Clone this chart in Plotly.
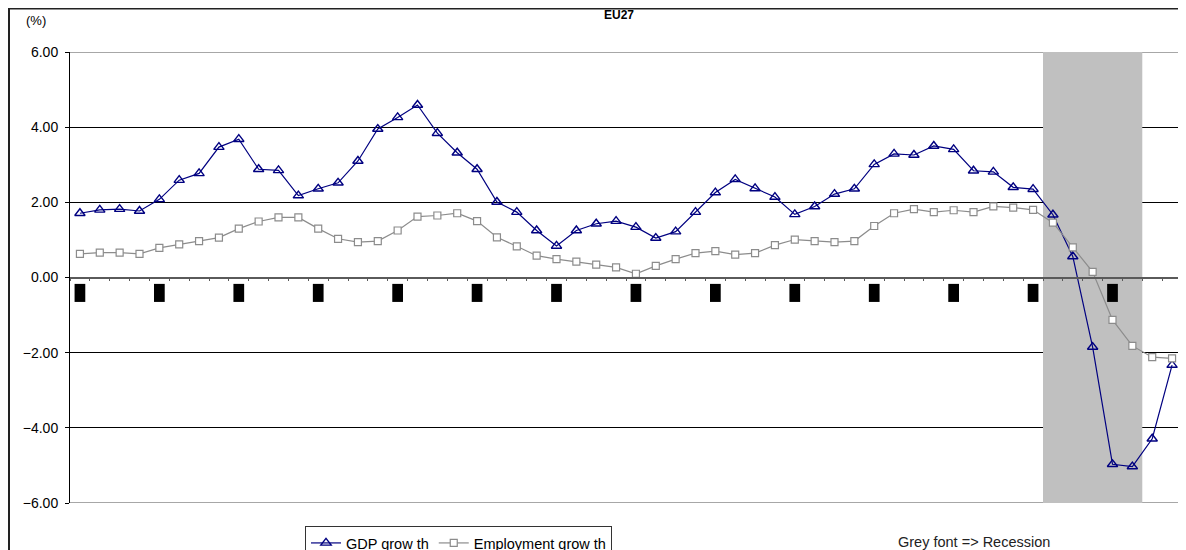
import plotly.graph_objects as go

# ---- data (quarterly, 56 quarters) ----
gdp_growth = [1.71, 1.80, 1.82, 1.77, 2.08, 2.59, 2.77, 3.47, 3.68, 2.88,
              2.85, 2.18, 2.36, 2.52, 3.10, 3.95, 4.26, 4.59, 3.84, 3.32,
              2.88, 2.01, 1.74, 1.25, 0.84, 1.25, 1.43, 1.50, 1.34, 1.05,
              1.22, 1.74, 2.26, 2.61, 2.37, 2.14, 1.68, 1.89, 2.22, 2.36,
              3.01, 3.29, 3.26, 3.50, 3.41, 2.84, 2.81, 2.40, 2.35, 1.67,
              0.56, -1.85, -4.97, -5.03, -4.29, -2.33]
employment_growth = [0.63, 0.66, 0.66, 0.63, 0.79, 0.88, 0.97, 1.06, 1.30, 1.49,
                     1.60, 1.60, 1.30, 1.03, 0.94, 0.97, 1.25, 1.62, 1.65, 1.71,
                     1.50, 1.07, 0.83, 0.58, 0.49, 0.42, 0.34, 0.27, 0.10, 0.31,
                     0.49, 0.65, 0.70, 0.61, 0.65, 0.86, 1.01, 0.97, 0.94, 0.97,
                     1.37, 1.71, 1.82, 1.74, 1.79, 1.74, 1.89, 1.86, 1.80, 1.46,
                     0.80, 0.15, -1.13, -1.82, -2.12, -2.15]
quarters = list(range(len(gdp_growth)))
year_label_quarters = [0, 4, 8, 12, 16, 20, 24, 28, 32, 36, 40, 44, 48, 52]
recession_quarters = [49, 50, 51, 52, 53]
y_ticks = [-6, -4, -2, 0, 2, 4, 6]

FONT = "Liberation Sans, Arial, sans-serif"

# page is offset by the default 8px body margin; layout values below are in figure px
W, H = 1186, 550
L, R, T, B = 62, 12, 44, 55
PW, PH = W - L - R, H - T - B  # plot area size


def px_x(fx):
    return (fx - L) / PW


def px_y(fy):
    return (H - B - fy) / PH


fig = go.Figure()

fig.add_trace(go.Scatter(
    x=quarters, y=gdp_growth, name="GDP grow th", mode="lines+markers",
    line=dict(color="#000080", width=1.2),
    marker=dict(symbol="triangle-up-open", size=9, color="#000080",
                line=dict(width=1.4, color="#000080")),
))
fig.add_trace(go.Scatter(
    x=quarters, y=employment_growth, name="Employment grow th", mode="lines+markers",
    line=dict(color="#8c8c8c", width=1.2),
    marker=dict(symbol="square", size=7, color="white",
                line=dict(width=1.2, color="#8c8c8c")),
))

shapes = []
# plot frame (grey top, right, bottom)
shapes.append(dict(type="line", xref="paper", yref="y", x0=0, x1=1, y0=6, y1=6,
                   line=dict(color="#8a8a8a", width=1.6), layer="between"))
shapes.append(dict(type="line", xref="paper", yref="y", x0=0, x1=1, y0=-6, y1=-6,
                   line=dict(color="#8a8a8a", width=1.6), layer="between"))
shapes.append(dict(type="line", xref="paper", yref="paper", x0=1, x1=1, y0=0, y1=1,
                   line=dict(color="#8a8a8a", width=1.6), layer="between"))
# recession shading
shapes.append(dict(type="rect", xref="x", yref="y",
                   x0=min(recession_quarters) - 0.5, x1=max(recession_quarters) + 0.5,
                   y0=-6.07, y1=6.05, fillcolor="#c0c0c0", line=dict(width=0),
                   layer="between"))
# year label blocks
for q in year_label_quarters:
    shapes.append(dict(type="rect", xref="x", yref="y", x0=q - 0.27, x1=q + 0.27,
                       y0=-0.65, y1=-0.17, fillcolor="black", line=dict(width=0),
                       layer="above"))
# outer chart border
shapes.append(dict(type="rect", xref="paper", yref="paper",
                   x0=px_x(1), x1=px_x(1200), y0=px_y(600), y1=px_y(0.5),
                   line=dict(color="#222222", width=2), fillcolor="rgba(0,0,0,0)"))

annotations = [
    dict(text="<b>EU27</b>", xref="paper", yref="paper", x=px_x(611), y=px_y(7),
         showarrow=False, font=dict(size=12, color="black", family=FONT),
         xanchor="center", yanchor="middle"),
    dict(text="(%)", xref="paper", yref="paper", x=px_x(27.5), y=px_y(12.5),
         showarrow=False, font=dict(size=13, color="black", family=FONT),
         xanchor="center", yanchor="middle"),
    dict(text="Grey font => Recession", xref="paper", yref="paper", x=px_x(966),
         y=px_y(533.5), showarrow=False, font=dict(size=14.5, color="#222222", family=FONT),
         xanchor="center", yanchor="middle"),
]

fig.update_layout(
    width=W, height=H,
    margin=dict(l=L, r=R, t=T, b=B, autoexpand=False),
    paper_bgcolor="white", plot_bgcolor="white",
    font=dict(family=FONT, size=14, color="black"),
    showlegend=True,
    legend=dict(orientation="h", xref="container", yref="container",
                x=297 / W, y=1 - 518 / H,
                xanchor="left", yanchor="top", bordercolor="#333333", borderwidth=1,
                bgcolor="white", font=dict(size=14.5, family=FONT, color="black")),
    shapes=shapes,
    annotations=annotations,
    xaxis=dict(range=[-0.5, len(quarters) - 0.5], anchor="free", position=0.5,
               showline=True, linecolor="#5a5a5a", linewidth=1.5,
               tickvals=[q - 0.5 for q in quarters] + [len(quarters) - 0.5],
               ticks="outside", ticklen=3, tickcolor="#5a5a5a", tickwidth=1,
               showticklabels=False, showgrid=False, zeroline=False),
    yaxis=dict(range=[-6, 6], tickvals=y_ticks, tickformat=".2f",
               showline=True, linecolor="black", linewidth=1,
               ticks="outside", ticklen=4, tickcolor="black", ticklabelstandoff=4,
               showgrid=True, gridcolor="black", gridwidth=1, zeroline=False,
               tickfont=dict(size=14, family=FONT, color="black")),
)

fig.write_html("out.html")
